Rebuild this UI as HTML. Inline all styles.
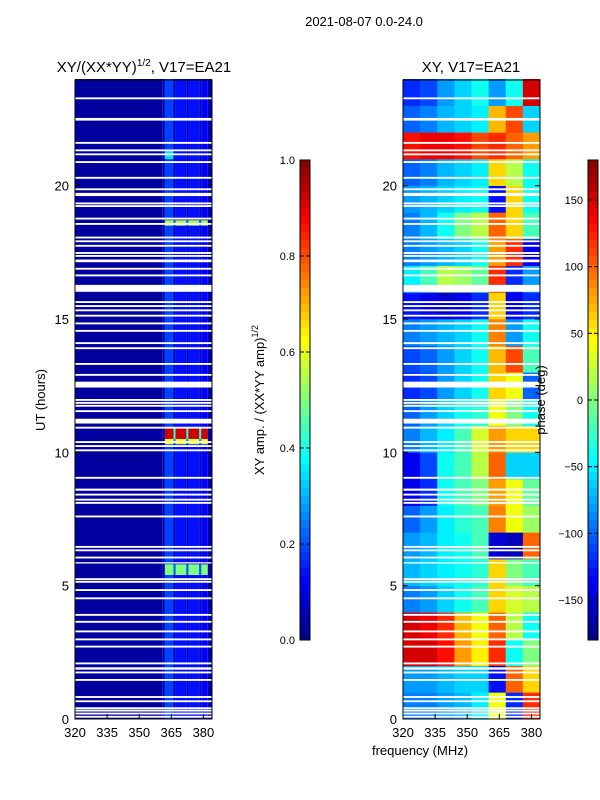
<!DOCTYPE html>
<html><head><meta charset="utf-8">
<style>
html,body{margin:0;padding:0;background:#fff;}
svg{display:block;font-family:"Liberation Sans",sans-serif;}
</style></head>
<body>
<svg id="fig" width="600" height="800" viewBox="0 0 600 800">
<rect x="0" y="0" width="600" height="800" fill="#fff"/>
<text x="364" y="26" font-size="13" text-anchor="middle">2021-08-07 0.0-24.0</text>
<text x="144" y="72" font-size="15" text-anchor="middle">XY/(XX*YY)<tspan dy="-6" font-size="10">1/2</tspan><tspan dy="6">, V17=EA21</tspan></text>
<text x="471" y="72" font-size="15" text-anchor="middle">XY, V17=EA21</text>
<g id="ampPanel"></g>
<g id="phasePanel"></g>
<g id="axes"></g>
<text transform="translate(45,400) rotate(-90)" font-size="13" text-anchor="middle">UT (hours)</text>
<text x="420" y="755" font-size="13" text-anchor="middle">frequency (MHz)</text>
<text transform="translate(264,400) rotate(-90)" font-size="13" text-anchor="middle">XY amp. / (XX*YY amp)<tspan dy="-6" font-size="9">1/2</tspan></text>
<text transform="translate(545,400) rotate(-90)" font-size="13" text-anchor="middle">phase (deg)</text>
</svg>
<script>
// ---- data ----
const ampFreqEdges = [320,361,362,366,367,372,373,378,379,382,384];
const ampColBase = [0.03,0.05,0.19,0.05,0.14,0.05,0.14,0.05,0.12,0.04];
const ampHotT0 = [10.5,10.3,5.4,18.5,21.0];
const ampHotT1 = [10.9,10.5,5.8,18.7,21.3];
const ampHotF0 = [362,362,362,362,362];
const ampHotF1 = [382,382,382,382,366];
const ampHotVal = [0.92,0.62,0.5,0.55,0.35];
const phaseFreqEdges = [320,328,336,344,352,360,368,376,384];
const phaseRows = [
 [-90,-90,-80,-70,-50,40,-120,120],
 [-80,-80,-70,-60,-60,-130,100,60],
 [150,150,130,80,50,120,-40,0],
 [150,140,120,70,40,100,20,-40],
 [-90,-80,-60,-40,-20,60,30,20],
 [-70,-60,-50,-40,-30,60,0,-20],
 [-80,-70,-50,-40,-20,-150,-160,100],
 [-100,-80,-50,-30,-20,90,40,10],
 [-140,-120,-40,-20,0,80,40,-10],
 [-140,-110,-40,-20,20,100,-60,-60],
 [-90,-70,-50,-20,30,80,60,60],
 [-100,-80,-60,-40,-30,40,0,-40],
 [-120,-110,-80,-60,-40,60,40,-100],
 [-110,-100,-80,-60,-40,70,110,-20],
 [-90,-80,-70,-60,-40,90,-80,-40],
 [-130,-140,-150,-140,-120,60,-140,-120],
 [-50,-20,20,10,-10,120,-120,-80],
 [-90,-80,-70,-60,-40,80,120,-140],
 [-90,-70,-40,0,20,100,60,-20],
 [-80,-70,-60,-50,-40,-130,60,-40],
 [-100,-90,-70,-60,-50,60,20,-40],
 [130,140,140,130,110,120,100,80],
 [-100,-90,-70,-60,-50,70,110,-60],
 [-120,-110,-80,-60,-40,-80,-40,150]
];
const gapStart = [23.24,22.44,21.57,21.29,21.14,20.85,20.26,19.83,19.61,19.30,19.20,18.73,18.53,18.02,17.88,17.71,17.44,17.33,17.13,16.85,16.60,16.02,15.60,15.45,15.29,15.09,14.80,14.52,14.06,13.87,13.28,12.87,12.43,11.93,11.82,11.71,11.51,11.08,10.89,10.35,10.20,10.04,9.01,8.56,8.38,8.19,8.07,7.56,6.42,6.29,6.02,5.83,5.21,5.11,4.80,4.49,3.87,3.61,3.25,2.95,2.68,2.05,1.85,1.71,1.43,0.79,0.63,0.37,0.28,0.17,0.05];
const gapEnd =   [23.31,22.54,21.64,21.36,21.21,20.92,20.33,19.90,19.73,19.37,19.27,18.80,18.60,18.09,17.95,17.78,17.51,17.40,17.23,16.92,16.67,16.28,15.67,15.52,15.36,15.16,14.87,14.59,14.13,13.94,13.35,12.94,12.65,12.00,11.89,11.78,11.58,11.26,10.96,10.42,10.27,10.11,9.08,8.64,8.45,8.26,8.14,7.63,6.49,6.36,6.09,5.88,5.28,5.18,4.87,4.56,3.94,3.68,3.32,3.02,2.75,2.12,1.94,1.78,1.50,0.86,0.70,0.44,0.35,0.24,0.12];
const xTicks = [320,335,350,365,380];
const yTicks = [0,5,10,15,20];
const ampTicks = [0.0,0.2,0.4,0.6,0.8,1.0];
const phaseTicks = [-150,-100,-50,0,50,100,150];

// ---- scales ----
const NS="http://www.w3.org/2000/svg";
const T0=79, T1=719, FMIN=320, FMAX=384;
const yT = h => T1 - (h/24)*(T1-T0);
const xL = f => 75 + (f-FMIN)/(FMAX-FMIN)*137;
const xR = f => 403 + (f-FMIN)/(FMAX-FMIN)*137;
function jet(v){v=Math.max(0,Math.min(1,v));
 const r=Math.max(0,Math.min(1,Math.min(4*v-1.5,-4*v+4.5)));
 const g=Math.max(0,Math.min(1,Math.min(4*v-0.5,-4*v+3.5)));
 const b=Math.max(0,Math.min(1,Math.min(4*v+0.5,-4*v+2.5)));
 return `rgb(${Math.round(r*255)},${Math.round(g*255)},${Math.round(b*255)})`;}
function mk(tag,attrs,parent){const e=document.createElementNS(NS,tag);for(const k in attrs)e.setAttribute(k,attrs[k]);parent.appendChild(e);return e;}
const ampG=document.getElementById('ampPanel'), phG=document.getElementById('phasePanel'), ax=document.getElementById('axes');
// amplitude
for(let i=0;i<ampColBase.length;i++){
 const r=mk('rect',{x:xL(ampFreqEdges[i]),y:T0,width:xL(ampFreqEdges[i+1])-xL(ampFreqEdges[i]),height:T1-T0,fill:jet(ampColBase[i])},ampG);
 
 
}
for(let i=0;i<ampHotVal.length;i++){
 for(let j=0;j<ampColBase.length;j++){
  const f0=Math.max(ampHotF0[i],ampFreqEdges[j]), f1=Math.min(ampHotF1[i],ampFreqEdges[j+1]);
  if(f1<=f0) continue;
  const v=ampColBase[j]>0.1?ampHotVal[i]:ampHotVal[i]*0.45;
  const r=mk('rect',{x:xL(f0),y:yT(ampHotT1[i]),width:xL(f1)-xL(f0),height:yT(ampHotT0[i])-yT(ampHotT1[i]),fill:jet(v)},ampG);
  
  
 }
}
// phase
for(let t=0;t<phaseRows.length;t++){
 for(let j=0;j<phaseRows[t].length;j++){
  const r=mk('rect',{x:xR(phaseFreqEdges[j]),y:yT(t+1),width:xR(phaseFreqEdges[j+1])-xR(phaseFreqEdges[j])+0.3,height:yT(t)-yT(t+1)+0.3,fill:jet((phaseRows[t][j]+180)/360)},phG);
  
  
 }
}
// gaps
for(let i=0;i<gapStart.length;i++){
 [[75,212],[403,540]].forEach(p=>{
  const r=mk('rect',{x:p[0],y:yT(gapEnd[i]),width:p[1]-p[0],height:yT(gapStart[i])-yT(gapEnd[i]),fill:'#fff'},ax);
  
  
 });
}
// frames + ticks
[[75,xL],[403,xR]].forEach(([x0,xs],pi)=>{
 const fr=mk('rect',{x:x0,y:T0+1,width:137,height:T1-T0-1,fill:'none',stroke:'#000','stroke-width':1},ax);
 
 
 xTicks.forEach(f=>{
  mk('line',{x1:xs(f),x2:xs(f),y1:T1,y2:T1-5,stroke:'#000'},ax);
  const t=mk('text',{x:xs(f),y:T1+18,'font-size':13,'text-anchor':'middle'},ax);t.textContent=f;
  
  
 });
 yTicks.forEach(h=>{
  mk('line',{x1:x0,x2:x0+5,y1:yT(h),y2:yT(h),stroke:'#000'},ax);
  mk('line',{x1:x0+137,x2:x0+132,y1:yT(h),y2:yT(h),stroke:'#000'},ax);
  const t=mk('text',{x:x0-6,y:yT(h)+5,'font-size':13,'text-anchor':'end'},ax);t.textContent=h;
  
  
 });
});
// colorbars
function colorbar(x,lo,hi,ticks,fmt,nm){
 const C0=160,C1=640,n=60;
 for(let i=0;i<n;i++){
  const r=mk('rect',{x:x,y:C1-(i+1)*(C1-C0)/n,width:10,height:(C1-C0)/n+0.5,fill:jet((i+0.5)/n)},ax);
  
  
 }
 const f=mk('rect',{x:x,y:C0,width:10,height:C1-C0,fill:'none',stroke:'#000'},ax);
 
 
 ticks.forEach(v=>{
  const y=C1-(v-lo)/(hi-lo)*(C1-C0);
  mk('line',{x1:x,x2:x+4,y1:y,y2:y,stroke:'#000'},ax);
  mk('line',{x1:x+10,x2:x+6,y1:y,y2:y,stroke:'#000'},ax);
  const t=mk('text',{x:x-5,y:y+4,'font-size':11,'text-anchor':'end'},ax);t.textContent=fmt(v);
  
  
 });
}
colorbar(300,0,1,ampTicks,v=>v.toFixed(1),'amp-colorbar');
colorbar(588,-180,180,phaseTicks,v=>v<0?'\u2212'+(-v):''+v,'phase-colorbar');
</script>
</body></html>
